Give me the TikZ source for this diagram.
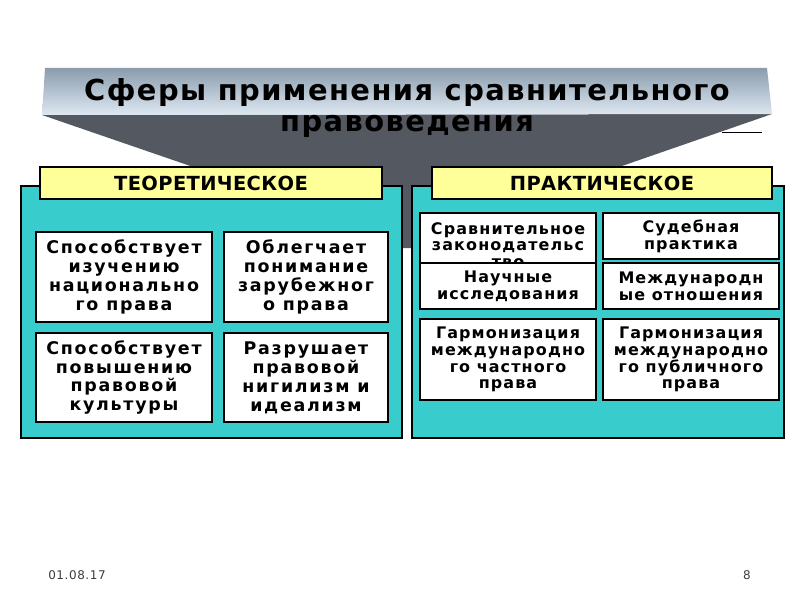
\documentclass[tikz,border=0pt]{standalone}
\usepackage{fontspec}
\setmainfont{DejaVu Sans}
\definecolor{tealp}{RGB}{56,204,204}
\definecolor{ylw}{RGB}{255,255,153}
\definecolor{dgray}{RGB}{84,89,97}
\definecolor{bantop}{RGB}{138,156,173}
\definecolor{banbot}{RGB}{222,232,241}
\definecolor{foot}{RGB}{60,60,60}
\tikzset{
  panel/.style={draw=black, line width=2.6bp, fill=tealp},
  hdr/.style={draw=black, line width=2.6bp, fill=ylw, inner sep=0pt,
    font=\bfseries\fontsize{19.5}{22}\selectfont\addfontfeature{LetterSpace=2}},
  wbox/.style={draw=black, line width=1.8bp, fill=white, inner sep=0pt, align=center},
  ltxt/.style={font=\bfseries\fontsize{17.5}{19}\selectfont\addfontfeature{LetterSpace=10}},
  rtxt/.style={font=\bfseries\fontsize{16}{16.8}\selectfont\addfontfeature{LetterSpace=7}},
  foottxt/.style={font=\fontsize{12}{14}\selectfont\addfontfeature{LetterSpace=5}, text=foot, inner sep=0pt},
}
\begin{document}
\begin{tikzpicture}[x=1bp,y=-1bp]
\useasboundingbox (0,0) rectangle (800,600);
% funnel
\fill[dgray] (42,115) -- (772,114) -- (420,236) -- (412,248) -- (403,248) -- (394,236) -- cycle;
% banner
\shade[top color=bantop, bottom color=banbot] (45,68) -- (767,68) -- (772,114) -- (42,115) -- cycle;
\node[align=center, inner sep=0pt, font=\bfseries\fontsize{29}{31}\selectfont\addfontfeature{LetterSpace=5}] (title) at (407,108)
  {Сферы применения сравнительного\\правоведения};
\coordinate (ln1) at (722,133);
\coordinate (ln2) at (762,133);
\draw[line width=1bp] (ln1) -- (ln2);
% panels
\node[panel, minimum width=381bp, minimum height=252bp, inner sep=0pt] (lp) at (211.5,312) {};
\node[panel, minimum width=372bp, minimum height=252bp, inner sep=0pt] (rp) at (598,312) {};
% headers
\node[hdr, minimum width=342bp, minimum height=32bp] (lh) at (211,183) {ТЕОРЕТИЧЕСКОЕ};
\node[hdr, minimum width=340bp, minimum height=32bp] (rh) at (602,183) {ПРАКТИЧЕСКОЕ};
% left boxes
\node[wbox, ltxt, minimum width=176bp, minimum height=90bp] (t1) at (124,277) {Способствует\\изучению\\национально\\го права};
\node[wbox, ltxt, minimum width=164bp, minimum height=90bp] (t2) at (306,277) {Облегчает\\понимание\\зарубежног\\о права};
\node[wbox, ltxt, minimum width=176bp, minimum height=89bp] (t3) at (124,377.5) {Способствует\\повышению\\правовой\\культуры};
\node[wbox, ltxt, minimum width=164bp, minimum height=89bp] (t4) at (306,377.5) {Разрушает\\правовой\\нигилизм и\\идеализм};
% right boxes
\node[wbox, minimum width=176bp, minimum height=50bp] (pA) at (508,238) {};
\node[rtxt, align=center, anchor=north, inner sep=0pt] (pAt) at (508,222) {Сравнительное\\законодательс\\тво};
\node[wbox, rtxt, minimum width=176bp, minimum height=46bp] (pB) at (691,236) {Судебная\\практика};
\node[wbox, rtxt, minimum width=176bp, minimum height=46bp] (pC) at (508,286) {Научные\\исследования};
\node[wbox, rtxt, minimum width=176bp, minimum height=46bp] (pD) at (691,286) {Международн\\ые отношения};
\node[wbox, rtxt, minimum width=176bp, minimum height=81bp] (pE) at (508,359.5) {Гармонизация\\международно\\го частного\\права};
\node[wbox, rtxt, minimum width=176bp, minimum height=81bp] (pF) at (691,359.5) {Гармонизация\\международно\\го публичного\\права};
% footer
\node[foottxt] (date) at (77,575) {01.08.17};
\node[foottxt] (page) at (747,575) {8};
\end{tikzpicture}
\end{document}
